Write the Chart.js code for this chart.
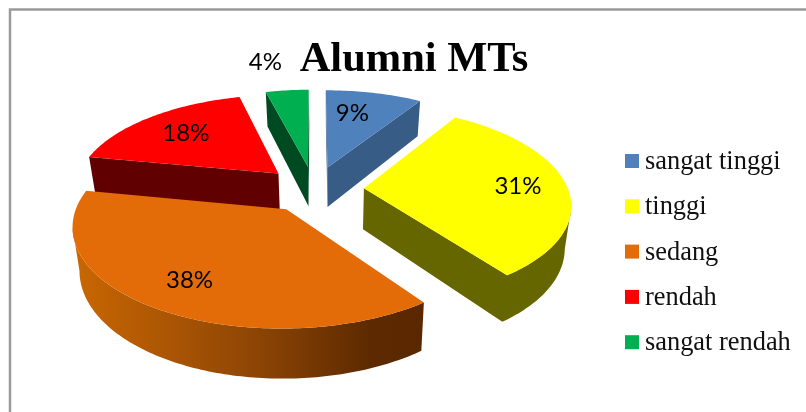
<!DOCTYPE html>
<html>
<head>
<meta charset="utf-8">
<title>Alumni MTs</title>
<script src="https://cdn.jsdelivr.net/npm/chart.js@4/dist/chart.umd.min.js"></script>
<style>
  html, body { margin: 0; padding: 0; background: #fff; }
  canvas { display: block; }
</style>
</head>
<body>
<canvas id="chart" width="806" height="412"></canvas>
<script>
const categories = ['sangat tinggi', 'tinggi', 'sedang', 'rendah', 'sangat rendah'];
const percentages = [9, 31, 38, 18, 4];
const chartTitle = 'Alumni MTs';

const topColors = ['#4F81BD', '#FFFF00', '#E36C09', '#FF0000', '#00B050'];
const sideColors = ['#375C85', '#666600', null, '#600000', '#004A22'];
const labelRadius = [0.7, 0.76, 0.75, 0.7, 1.45];
const labelNudgeX = [-9, 0, 0, 0, -14];
const drawOrder = [4, 0, 3, 1, 2]; // back to front

// camera for the tilted, exploded pie
const cam = { cx: 314, cy: 189, rx: 204, ry: 94.7, persp: 0.15, explode: 0.245, depth: 41, vanishX: 330, taper: 0.027 };

function project(u, v) {
    const w = 1 - cam.persp * v;
    return { x: cam.cx + cam.rx * u / w, y: cam.cy + cam.ry * v / w, w };
}
function lower(p) {
    return { x: p.x - (p.x - cam.vanishX) * cam.taper, y: p.y + cam.depth / p.w };
}
// a = clockwise angle from 12 o'clock, r = fraction of the radius
function slicePoint(mid, a, r) {
    const u = cam.explode * Math.sin(mid) + r * Math.sin(a);
    const v = -cam.explode * Math.cos(mid) - r * Math.cos(a);
    return project(u, v);
}
function sideFill(ctx, i) {
    if (sideColors[i]) return sideColors[i];
    const g = ctx.createLinearGradient(78, 0, 425, 0);
    g.addColorStop(0, '#C86602');
    g.addColorStop(0.5, '#8F4605');
    g.addColorStop(0.85, '#5C2900');
    g.addColorStop(1, '#5A2800');
    return g;
}
function fillWall(ctx, run) {
    ctx.beginPath();
    run.forEach((p, k) => k ? ctx.lineTo(p.x, p.y) : ctx.moveTo(p.x, p.y));
    run.slice().reverse().forEach(p => { const l = lower(p); ctx.lineTo(l.x, l.y); });
    ctx.closePath();
    ctx.fill();
}

const pie3d = {
    id: 'pie3d',
    beforeDatasetDraw() { return false; }, // the plugin paints the arcs itself
    beforeDatasetsDraw(chart) {
        const ctx = chart.ctx;
        const arcs = chart.getDatasetMeta(0).data;
        ctx.save();
        drawOrder.forEach(i => {
            const start = arcs[i].startAngle + Math.PI / 2;
            const end = arcs[i].endAngle + Math.PI / 2;
            const mid = (start + end) / 2;
            const outline = [slicePoint(mid, mid, 0)];
            const steps = Math.ceil((end - start) / (Math.PI / 180));
            for (let s = 0; s <= steps; s++) {
                outline.push(slicePoint(mid, start + (end - start) * s / steps, 1));
            }
            // only the edges facing the viewer get a wall, joined into strips
            ctx.fillStyle = sideFill(ctx, i);
            let run = [];
            outline.forEach((a, k) => {
                const b = outline[(k + 1) % outline.length];
                if (b.x < a.x) {
                    if (!run.length) run.push(a);
                    run.push(b);
                } else if (run.length) {
                    fillWall(ctx, run);
                    run = [];
                }
            });
            if (run.length) fillWall(ctx, run);

            ctx.fillStyle = topColors[i];
            ctx.beginPath();
            outline.forEach((p, k) => k ? ctx.lineTo(p.x, p.y) : ctx.moveTo(p.x, p.y));
            ctx.closePath(); ctx.fill();
        });
        ctx.restore();
    },
    afterDatasetsDraw(chart) {
        const ctx = chart.ctx;
        const arcs = chart.getDatasetMeta(0).data;
        ctx.save();
        ctx.fillStyle = '#000';
        ctx.font = '24px Lato';
        ctx.textAlign = 'center'; ctx.textBaseline = 'middle';
        arcs.forEach((arc, i) => {
            const mid = (arc.startAngle + arc.endAngle) / 2 + Math.PI / 2;
            const p = slicePoint(mid, mid, labelRadius[i]);
            ctx.fillText(percentages[i] + '%', p.x + labelNudgeX[i], p.y);
        });
        ctx.restore();
    },
    afterDraw(chart) {
        const ctx = chart.ctx;
        ctx.save();
        // outer frame, only left and top fall inside the picture
        ctx.strokeStyle = '#9A9A9A'; ctx.lineWidth = 2.5;
        ctx.beginPath();
        ctx.moveTo(10, 420); ctx.lineTo(10, 9.5); ctx.lineTo(810, 9.5);
        ctx.stroke();
        // legend
        ctx.font = '26.4px "Liberation Serif"';
        ctx.textAlign = 'left'; ctx.textBaseline = 'middle';
        categories.forEach((name, i) => {
            const y = 161 + i * 45.3;
            ctx.fillStyle = topColors[i];
            ctx.fillRect(625, y - 7, 14, 14);
            ctx.fillStyle = '#111';
            ctx.fillText(name, 645, y + 1);
        });
        ctx.restore();
    }
};

new Chart(document.getElementById('chart'), {
    type: 'pie',
    data: {
        labels: categories,
        datasets: [{ data: percentages, backgroundColor: topColors, borderWidth: 0 }]
    },
    options: {
        responsive: false,
        animation: false,
        layout: { padding: { left: 22, top: 35 } },
        plugins: {
            legend: { display: false },
            tooltip: { enabled: false },
            title: {
                display: true,
                text: chartTitle,
                color: '#000',
                font: { family: '"Liberation Serif"', size: 42.5, weight: 'bold' },
                padding: 0
            }
        }
    },
    plugins: [pie3d]
});
</script>
</body>
</html>
